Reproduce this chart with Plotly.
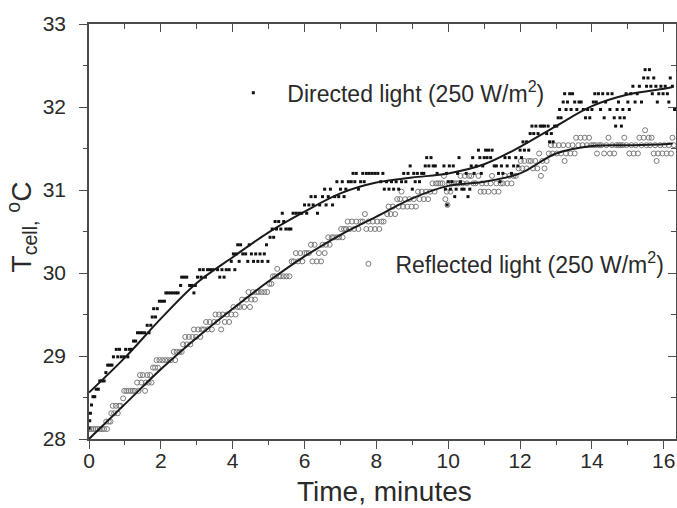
import plotly.graph_objects as go

# ---------------- data ----------------
# Directed light (250 W/m2): measured points (time, minutes ; temperature, degC)
directed_points = [
    (0.00, 28.13), (0.02, 28.22), (0.04, 28.31), (0.07, 28.41), (0.11, 28.51), (0.16, 28.51),
    (0.20, 28.60), (0.26, 28.60), (0.30, 28.70), (0.36, 28.70), (0.42, 28.70), (0.47, 28.80),
    (0.52, 28.89), (0.58, 28.89), (0.64, 28.89), (0.68, 28.99), (0.76, 29.08), (0.80, 28.99),
    (0.85, 29.08), (0.90, 28.99), (0.98, 28.99), (1.02, 29.08), (1.08, 28.99), (1.12, 29.08),
    (1.18, 29.08), (1.24, 29.18), (1.30, 29.18), (1.35, 29.28), (1.42, 29.28), (1.48, 29.28),
    (1.55, 29.28), (1.62, 29.37), (1.67, 29.28), (1.72, 29.37), (1.76, 29.47), (1.80, 29.57),
    (1.85, 29.47), (1.90, 29.57), (1.96, 29.66), (2.03, 29.66), (2.10, 29.66), (2.14, 29.76),
    (2.20, 29.76), (2.27, 29.76), (2.34, 29.76), (2.41, 29.76), (2.48, 29.76), (2.55, 29.85),
    (2.58, 29.95), (2.65, 29.95), (2.72, 29.95), (2.80, 29.85), (2.87, 29.85), (2.92, 29.76),
    (2.96, 29.85), (3.02, 29.95), (3.08, 30.04), (3.12, 29.95), (3.18, 30.04), (3.24, 29.95),
    (3.30, 30.04), (3.38, 30.04), (3.45, 30.04), (3.58, 30.04), (3.64, 29.95), (3.70, 30.04),
    (3.76, 29.95), (3.82, 30.04), (3.90, 30.04), (3.96, 30.14), (4.02, 30.23), (4.06, 30.04),
    (4.10, 30.23), (4.14, 30.34), (4.18, 30.14), (4.22, 30.34), (4.28, 30.23), (4.36, 30.23),
    (4.42, 30.14), (4.46, 30.34), (4.52, 30.23), (4.58, 30.14), (4.64, 30.23), (4.70, 30.14),
    (4.76, 30.23), (4.82, 30.14), (4.88, 30.23), (4.94, 30.34), (4.98, 30.14), (5.04, 30.43),
    (5.10, 30.53), (5.14, 30.43), (5.18, 30.62), (5.22, 30.53), (5.28, 30.62), (5.34, 30.53),
    (5.38, 30.72), (5.42, 30.62), (5.48, 30.53), (5.56, 30.53), (5.62, 30.53), (5.68, 30.72),
    (5.76, 30.72), (5.84, 30.72), (5.92, 30.72), (6.00, 30.82), (6.06, 30.72), (6.12, 30.82),
    (6.18, 30.92), (6.24, 30.82), (6.30, 30.92), (6.36, 30.72), (6.42, 30.82), (6.50, 30.92),
    (6.56, 31.01), (6.60, 30.82), (6.66, 30.92), (6.72, 31.01), (6.78, 30.82), (6.84, 30.92),
    (6.90, 31.10), (6.95, 30.92), (7.00, 31.01), (7.05, 31.10), (7.10, 30.92), (7.15, 31.01),
    (7.22, 31.10), (7.30, 31.10), (7.35, 31.20), (7.40, 31.10), (7.44, 31.20), (7.50, 31.01),
    (7.56, 31.10), (7.62, 31.20), (7.66, 31.10), (7.72, 31.20), (7.80, 31.20), (7.88, 31.20),
    (7.96, 31.20), (8.04, 31.20), (8.12, 31.10), (8.18, 31.20), (8.22, 31.01), (8.28, 31.10),
    (8.35, 31.01), (8.42, 31.10), (8.48, 31.01), (8.55, 31.10), (8.62, 31.01), (8.70, 31.10),
    (8.76, 31.20), (8.82, 31.10), (8.88, 31.20), (8.94, 31.29), (9.00, 31.01), (9.04, 31.20),
    (9.08, 31.10), (9.14, 31.20), (9.20, 31.10), (9.26, 31.20), (9.32, 31.20), (9.36, 31.29),
    (9.40, 31.39), (9.46, 31.29), (9.52, 31.39), (9.58, 31.29), (9.64, 31.29), (9.69, 31.20),
    (9.88, 31.29), (9.92, 31.01), (9.95, 31.20), (9.97, 30.82), (10.00, 31.10), (10.03, 31.29),
    (10.06, 31.01), (10.10, 31.10), (10.14, 31.29), (10.18, 30.92), (10.22, 31.01), (10.26, 31.20),
    (10.30, 31.39), (10.34, 31.10), (10.38, 31.01), (10.44, 31.01), (10.50, 31.20), (10.55, 30.92),
    (10.60, 31.01), (10.64, 31.29), (10.68, 31.39), (10.72, 31.20), (10.78, 31.29), (10.84, 31.48),
    (10.88, 31.39), (10.92, 31.20), (10.96, 31.29), (11.00, 31.39), (11.04, 31.48), (11.08, 31.39),
    (11.12, 31.48), (11.18, 31.39), (11.22, 31.48), (11.28, 31.29), (11.34, 31.29), (11.40, 31.20),
    (11.44, 31.10), (11.48, 31.29), (11.52, 31.20), (11.58, 31.39), (11.64, 31.29), (11.70, 31.39),
    (11.76, 31.20), (11.82, 31.29), (11.88, 31.39), (11.94, 31.29), (12.00, 31.48), (12.04, 31.39),
    (12.08, 31.58), (12.12, 31.48), (12.18, 31.58), (12.24, 31.48), (12.28, 31.68), (12.33, 31.77),
    (12.38, 31.68), (12.44, 31.77), (12.50, 31.68), (12.56, 31.77), (12.62, 31.77), (12.68, 31.77),
    (12.74, 31.68), (12.78, 31.77), (12.82, 31.58), (12.87, 31.68), (12.92, 31.58), (12.96, 31.77),
    (13.02, 31.77), (13.06, 31.87), (13.10, 31.97), (13.14, 31.87), (13.20, 32.06), (13.24, 32.16),
    (13.28, 31.97), (13.32, 32.06), (13.38, 32.16), (13.42, 31.97), (13.46, 32.16), (13.52, 32.06),
    (13.58, 31.97), (13.64, 32.06), (13.70, 32.06), (13.76, 31.97), (13.82, 31.87), (13.88, 31.97),
    (13.94, 31.87), (14.00, 31.97), (14.04, 32.06), (14.08, 32.16), (14.12, 32.06), (14.18, 32.16),
    (14.24, 31.97), (14.30, 32.16), (14.34, 31.87), (14.38, 32.06), (14.44, 32.16), (14.50, 31.97),
    (14.56, 32.16), (14.62, 31.87), (14.66, 31.77), (14.70, 31.97), (14.74, 32.06), (14.78, 31.87),
    (14.82, 31.77), (14.86, 31.97), (14.90, 31.87), (14.95, 32.16), (15.00, 32.06), (15.04, 31.97),
    (15.08, 32.16), (15.14, 32.25), (15.20, 32.06), (15.26, 32.16), (15.32, 32.25), (15.38, 32.06),
    (15.44, 32.35), (15.48, 32.45), (15.52, 32.25), (15.56, 32.35), (15.60, 32.45), (15.64, 32.25),
    (15.68, 32.16), (15.72, 32.35), (15.78, 32.25), (15.82, 32.06), (15.86, 32.16), (15.92, 32.25),
    (15.98, 32.16), (16.04, 32.25), (16.10, 32.16), (16.14, 32.06), (16.18, 32.35), (16.24, 32.25),
    (16.30, 31.97),
]

# Reflected light (250 W/m2): measured points (time, minutes ; temperature, degC)
reflected_points = [
    (0.00, 28.12), (0.06, 28.12), (0.12, 28.12), (0.18, 28.12), (0.24, 28.12), (0.30, 28.12),
    (0.36, 28.12), (0.42, 28.12), (0.48, 28.21), (0.50, 28.12), (0.55, 28.21), (0.60, 28.21),
    (0.62, 28.31), (0.66, 28.40), (0.70, 28.31), (0.75, 28.40), (0.80, 28.31), (0.84, 28.40),
    (0.88, 28.40), (0.95, 28.49), (0.98, 28.58), (1.04, 28.58), (1.10, 28.58), (1.16, 28.58),
    (1.22, 28.58), (1.28, 28.58), (1.34, 28.68), (1.38, 28.58), (1.42, 28.77), (1.46, 28.68),
    (1.50, 28.77), (1.56, 28.58), (1.58, 28.68), (1.62, 28.77), (1.66, 28.68), (1.70, 28.77),
    (1.74, 28.68), (1.78, 28.86), (1.84, 28.86), (1.88, 28.95), (1.92, 28.86), (1.96, 28.95),
    (2.04, 28.95), (2.12, 28.95), (2.20, 28.95), (2.28, 28.95), (2.36, 29.05), (2.40, 28.95),
    (2.44, 29.05), (2.52, 29.05), (2.58, 29.05), (2.62, 29.14), (2.68, 29.23), (2.72, 29.14),
    (2.78, 29.23), (2.82, 29.14), (2.88, 29.23), (2.92, 29.32), (2.98, 29.23), (3.04, 29.32),
    (3.10, 29.23), (3.14, 29.32), (3.20, 29.32), (3.26, 29.41), (3.30, 29.32), (3.36, 29.41),
    (3.42, 29.32), (3.48, 29.41), (3.52, 29.50), (3.58, 29.41), (3.62, 29.50), (3.68, 29.32),
    (3.72, 29.50), (3.78, 29.41), (3.84, 29.50), (3.90, 29.41), (3.96, 29.50), (4.02, 29.59),
    (4.08, 29.50), (4.14, 29.59), (4.20, 29.59), (4.26, 29.68), (4.32, 29.59), (4.38, 29.68),
    (4.44, 29.77), (4.48, 29.59), (4.52, 29.68), (4.56, 29.77), (4.62, 29.68), (4.66, 29.77),
    (4.72, 29.77), (4.80, 29.77), (4.88, 29.77), (4.96, 29.77), (5.02, 29.87), (5.08, 29.87),
    (5.12, 29.96), (5.18, 29.96), (5.24, 30.05), (5.28, 29.96), (5.34, 29.96), (5.42, 29.96),
    (5.50, 29.96), (5.58, 29.96), (5.64, 30.14), (5.70, 30.14), (5.76, 30.24), (5.82, 30.14),
    (5.88, 30.24), (5.94, 30.14), (6.00, 30.24), (6.06, 30.24), (6.12, 30.24), (6.18, 30.34),
    (6.22, 30.14), (6.28, 30.34), (6.34, 30.14), (6.40, 30.24), (6.46, 30.14), (6.50, 30.34),
    (6.56, 30.24), (6.60, 30.34), (6.66, 30.43), (6.70, 30.34), (6.76, 30.43), (6.82, 30.43),
    (6.90, 30.43), (6.96, 30.43), (7.02, 30.53), (7.06, 30.43), (7.10, 30.53), (7.16, 30.53),
    (7.20, 30.62), (7.26, 30.53), (7.32, 30.62), (7.38, 30.53), (7.44, 30.62), (7.50, 30.53),
    (7.56, 30.62), (7.62, 30.62), (7.68, 30.71), (7.72, 30.53), (7.78, 30.62), (7.84, 30.53),
    (7.90, 30.62), (7.96, 30.53), (8.02, 30.62), (8.08, 30.53), (8.14, 30.62), (8.20, 30.62),
    (8.30, 30.71), (8.34, 30.80), (8.40, 30.71), (8.46, 30.80), (8.52, 30.71), (8.58, 30.89),
    (8.62, 30.80), (8.66, 30.89), (8.70, 30.98), (8.74, 30.80), (8.80, 30.89), (8.86, 30.80),
    (8.92, 30.89), (8.98, 30.80), (9.04, 30.89), (9.10, 30.80), (9.16, 30.98), (9.20, 30.89),
    (9.26, 30.98), (9.32, 30.89), (9.38, 30.98), (9.44, 30.89), (9.50, 30.98), (9.56, 31.08),
    (9.62, 30.98), (9.66, 31.08), (9.72, 31.08), (9.78, 31.08), (9.84, 31.08), (9.88, 31.17),
    (9.92, 30.89), (9.96, 30.98), (9.98, 30.82), (10.02, 31.08), (10.06, 30.98), (10.10, 31.08),
    (10.16, 31.08), (10.22, 31.08), (10.28, 31.08), (10.34, 31.17), (10.40, 31.08), (10.46, 31.17),
    (10.52, 31.08), (10.58, 31.17), (10.64, 31.17), (10.70, 31.08), (10.76, 31.08), (10.84, 31.17),
    (10.90, 30.98), (10.94, 31.08), (11.00, 30.98), (11.06, 31.08), (11.12, 30.98), (11.18, 31.08),
    (11.22, 31.17), (11.28, 30.98), (11.34, 31.08), (11.40, 30.98), (11.46, 31.08), (11.52, 31.08),
    (11.58, 31.17), (11.64, 31.08), (11.70, 31.17), (11.76, 31.08), (11.82, 31.17), (11.88, 31.17),
    (11.96, 31.26), (12.02, 31.35), (12.06, 31.26), (12.12, 31.35), (12.18, 31.26), (12.24, 31.35),
    (12.30, 31.35), (12.36, 31.26), (12.42, 31.35), (12.48, 31.26), (12.53, 31.44), (12.58, 31.17),
    (12.62, 31.35), (12.68, 31.26), (12.74, 31.35), (12.80, 31.44), (12.86, 31.54), (12.90, 31.44),
    (12.96, 31.54), (13.02, 31.44), (13.08, 31.54), (13.14, 31.44), (13.20, 31.54), (13.24, 31.35),
    (13.28, 31.44), (13.34, 31.54), (13.40, 31.44), (13.46, 31.54), (13.52, 31.44), (13.56, 31.63),
    (13.62, 31.54), (13.68, 31.63), (13.74, 31.54), (13.80, 31.63), (13.86, 31.54), (13.92, 31.63),
    (13.98, 31.54), (14.04, 31.54), (14.10, 31.54), (14.14, 31.44), (14.20, 31.54), (14.26, 31.54),
    (14.34, 31.44), (14.40, 31.54), (14.46, 31.63), (14.50, 31.44), (14.56, 31.54), (14.62, 31.44),
    (14.68, 31.54), (14.74, 31.54), (14.80, 31.54), (14.86, 31.54), (14.90, 31.63), (14.96, 31.54),
    (15.04, 31.44), (15.10, 31.54), (15.16, 31.44), (15.22, 31.54), (15.28, 31.44), (15.32, 31.63),
    (15.38, 31.54), (15.44, 31.63), (15.48, 31.72), (15.52, 31.54), (15.58, 31.63), (15.62, 31.54),
    (15.66, 31.63), (15.72, 31.44), (15.76, 31.54), (15.80, 31.35), (15.84, 31.44), (15.90, 31.54),
    (15.96, 31.44), (16.02, 31.54), (16.08, 31.44), (16.14, 31.54), (16.20, 31.44), (16.24, 31.63),
    (16.28, 31.54),
]

# Fitted (smooth) curves
directed_fit_time = [0, 1, 2, 3, 4, 5, 6, 7, 8, 9, 10, 11, 12, 13, 14, 15, 16, 16.25]
directed_fit_temp = [28.56, 28.98, 29.45, 29.88, 30.19, 30.49, 30.74, 30.96, 31.09, 31.15,
                     31.20, 31.31, 31.52, 31.77, 32.01, 32.15, 32.22, 32.24]
reflected_fit_time = [0, 1, 2, 3, 4, 5, 6, 7, 8, 9, 10, 11, 12, 13, 14, 15, 16, 16.25]
reflected_fit_temp = [28.00, 28.42, 28.84, 29.22, 29.57, 29.90, 30.20, 30.46, 30.68, 30.90,
                      31.05, 31.10, 31.20, 31.44, 31.53, 31.54, 31.55, 31.56]

x_ticks = [0, 2, 4, 6, 8, 10, 12, 14, 16]
y_ticks = [28, 29, 30, 31, 32, 33]
x_range = [0, 16.34]
y_range = [28, 33]

directed_name = "Directed light (250 W/m<sup>2</sup>)"
reflected_name = "Reflected light (250 W/m<sup>2</sup>)"

dir_time = [p[0] for p in directed_points]
dir_temp = [p[1] for p in directed_points]
ref_time = [p[0] for p in reflected_points]
ref_temp = [p[1] for p in reflected_points]

# ---------------- figure ----------------
FONT = "Liberation Sans, Arial, sans-serif"
TXT = "#2a2a2a"
AX = "#4a4a4a"

fig = go.Figure()

fig.add_trace(go.Scatter(
    x=ref_time, y=ref_temp, mode="markers", name=reflected_name, legend="legend2",
    marker=dict(symbol="circle-open", size=5, color="#7a7a7a",
                line=dict(width=1, color="#7a7a7a")),
))
fig.add_trace(go.Scatter(
    x=dir_time, y=dir_temp, mode="markers", name=directed_name, legend="legend",
    marker=dict(symbol="square", size=3, color="#111111", line=dict(width=0)),
))
fig.add_trace(go.Scatter(
    x=reflected_fit_time, y=reflected_fit_temp, mode="lines", showlegend=False,
    line=dict(color="#1a1a1a", width=2, shape="spline", smoothing=1.0),
))
fig.add_trace(go.Scatter(
    x=directed_fit_time, y=directed_fit_temp, mode="lines", showlegend=False,
    line=dict(color="#1a1a1a", width=2, shape="spline", smoothing=1.0),
))
# helper (empty) trace so that the mirrored top/right axes are drawn
fig.add_trace(go.Scatter(x=[], y=[], xaxis="x2", yaxis="y2", showlegend=False,
                         hoverinfo="skip"))

axis_common = dict(showgrid=False, zeroline=False, showline=True, linecolor=AX,
                   linewidth=1.6, tickcolor=AX, tickwidth=1.3)

fig.update_layout(
    width=677, height=508,
    margin=dict(l=89, r=1, t=24, b=69),
    paper_bgcolor="white", plot_bgcolor="white",
    font=dict(family=FONT, color=TXT, size=21),
    xaxis=dict(range=x_range, tickvals=x_ticks, ticks="outside", ticklen=8,
               minor=dict(dtick=1, tick0=0, ticks="outside", ticklen=4,
                          tickcolor=AX, tickwidth=1.3),
               tickfont=dict(size=21, color=TXT, family=FONT),
               ticklabelstandoff=-6, **axis_common),
    yaxis=dict(range=y_range, tickvals=y_ticks, ticks="outside", ticklen=8,
               minor=dict(dtick=0.5, tick0=28, ticks="outside", ticklen=4,
                          tickcolor=AX, tickwidth=1.3),
               tickfont=dict(size=21, color=TXT, family=FONT),
               ticklabelstandoff=9, **axis_common),
    xaxis2=dict(range=x_range, overlaying="x", side="top", anchor="y",
                tickvals=x_ticks, ticks="inside", ticklen=8, showticklabels=False,
                minor=dict(dtick=1, tick0=0, ticks="inside", ticklen=5,
                           tickcolor=AX, tickwidth=1.3),
                **axis_common),
    yaxis2=dict(range=y_range, overlaying="y", side="right", anchor="x",
                tickvals=y_ticks, ticks="inside", ticklen=8, showticklabels=False,
                minor=dict(dtick=0.5, tick0=28, ticks="inside", ticklen=5,
                           tickcolor=AX, tickwidth=1.3),
                **axis_common),
    legend=dict(x=0.222, y=0.834, xanchor="left", yanchor="middle",
                bgcolor="rgba(0,0,0,0)", borderwidth=0, itemwidth=58,
                font=dict(size=23, color=TXT, family=FONT)),
    legend2=dict(x=0.430, y=0.422, xanchor="left", yanchor="middle",
                 bgcolor="rgba(0,0,0,0)", borderwidth=0, itemwidth=44,
                 font=dict(size=23, color=TXT, family=FONT)),
    annotations=[
        dict(text="Time, minutes", xref="paper", yref="paper", x=0.504, y=-0.126,
             xanchor="center", yanchor="middle", showarrow=False,
             font=dict(size=28, color=TXT, family=FONT)),
        dict(text="T<sub>cell,</sub> <sup>o</sup>C", xref="paper", yref="paper",
             x=-0.114, y=0.51, xanchor="center", yanchor="middle", textangle=-90,
             showarrow=False, font=dict(size=28, color=TXT, family=FONT)),
    ],
)

fig.write_html("out.html")
